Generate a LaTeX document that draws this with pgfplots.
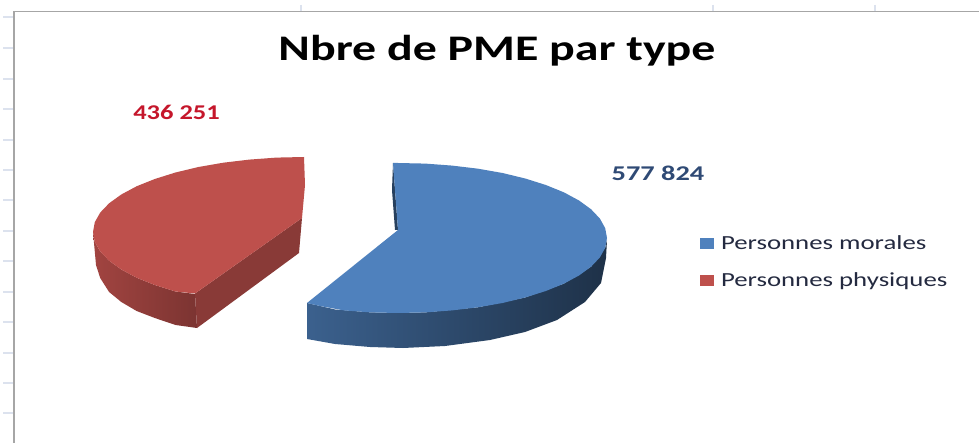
\documentclass[border=0pt]{standalone}
\usepackage{pgfplots}
\pgfplotsset{compat=1.18}
\usepackage{fontspec}
\setmainfont{Carlito}
\definecolor{bluetop}{HTML}{4F81BD}
\definecolor{redtop}{HTML}{BE504C}
\definecolor{framegray}{HTML}{A6A6A6}
\definecolor{tickblue}{HTML}{DCE2EE}
\definecolor{labred}{HTML}{C5162B}
\definecolor{labblue}{HTML}{2F4A75}
\definecolor{legtext}{HTML}{242A40}
\begin{document}
\begin{tikzpicture}
\begin{axis}[
  scale only axis, width=979pt, height=443pt,
  xmin=0, xmax=979, ymin=0, ymax=443, y dir=reverse,
  hide axis, clip=true,
  unbounded coords=jump,
  legend cell align=left,
  legend style={at={(axis cs:700,236)}, anchor=north west, draw=none, fill=none,
    font=\fontsize{20pt}{22pt}\selectfont\color{legtext}, row sep=21pt, inner sep=0pt, outer sep=0pt,
    nodes={inner sep=0pt, outer sep=0pt}},
  legend image code/.code={\fill[#1, draw=none, line width=0pt] (0pt,-5.5pt) rectangle (14pt,5.5pt);},
]
% background and frame
\addplot[fill=white, draw=none, forget plot] coordinates {(0,0) (979,0) (979,443) (0,443)} -- cycle;
\addplot[tickblue, line width=1.2pt, forget plot] coordinates {
 (3,17) (14,17) (nan,nan) (3,48) (14,48) (nan,nan) (3,79) (14,79) (nan,nan)
 (3,109) (14,109) (nan,nan) (3,140) (14,140) (nan,nan) (3,170) (14,170) (nan,nan)
 (3,200) (14,200) (nan,nan) (3,231) (14,231) (nan,nan) (3,261) (14,261) (nan,nan)
 (3,292) (14,292) (nan,nan) (3,322) (14,322) (nan,nan) (3,353) (14,353) (nan,nan)
 (3,383) (14,383) (nan,nan) (3,413) (14,413) (nan,nan)
 (301,5) (301,11) (nan,nan) (713,5) (713,11) (nan,nan) (875,5) (875,11)};
\addplot[framegray, line width=1.6pt, forget plot] coordinates {(14,443) (14,11.5) (979,11.5)};

% Personnes morales: rim, inner sliver, top face
\addplot[draw=none, forget plot, shading=axis,
  left color=bluetop!75!black, middle color=bluetop!45!black, right color=bluetop!38!black, shading angle=90]
 coordinates {(307,303) (320,306) (335.2,309.5) (370.7,312.4) (398,313) (425.3,312.4) (478,307.3)
 (525.2,297.5) (563.8,283.7) (591.1,266.7) (605.2,247.8) (607,240) (606,258) (601,283) (585,302)
 (557,320) (525,332) (490,340) (445,346) (403,348) (370,347) (335,344) (307,339)} -- cycle;
\addplot[draw=none, fill=bluetop!50!black, forget plot]
 coordinates {(393,163) (392,190) (395,230) (398,230)} -- cycle;
\addplot[draw=none, fill=bluetop]
 coordinates {(393,163) (398,163) (425.3,163.6) (452.1,165.6) (478,168.7) (502.5,173) (525.2,178.5)
 (545.8,185) (563.8,192.3) (579,200.5) (591.1,209.3) (599.9,218.6) (605.2,228.2) (607,238)
 (605.2,247.8) (599.9,257.4) (591.1,266.7) (579,275.5) (563.8,283.7) (545.8,291) (525.2,297.5)
 (502.5,303) (478,307.3) (452.1,310.4) (425.3,312.4) (398,313) (370.7,312.4) (343.9,310.4)
 (320,306) (307,303) (398,230)} -- cycle;
\addlegendentry{\hspace*{7pt}\scalebox{1.34}[1]{Personnes morales}}

% Personnes physiques: rim, cut face, top face
\addplot[draw=none, forget plot, shading=axis, left color=redtop!85!black, right color=redtop!65!black, shading angle=90]
 coordinates {(93,232) (94.8,241.8) (100.2,251.4) (109.1,260.7) (121.3,269.5) (136.6,277.7)
 (154.8,285) (175.5,291.5) (195,294) (197,328) (175.5,325) (154.8,318) (136.6,311) (121.3,302)
 (109.1,292) (100.2,278) (96,265)} -- cycle;
\addplot[draw=none, fill=redtop!72!black, forget plot]
 coordinates {(195,293.5) (197,328) (299,253) (302,218)} -- cycle;
\addplot[draw=none, fill=redtop]
 coordinates {(304,157) (276.5,157.6) (249.4,159.6) (223.3,162.7) (198.5,167) (175.5,172.5)
 (154.8,179) (136.6,186.3) (121.3,194.5) (109.1,203.3) (100.2,212.6) (94.8,222.2) (93,232)
 (94.8,241.8) (100.2,251.4) (109.1,260.7) (121.3,269.5) (136.6,277.7) (154.8,285) (175.5,291.5)
 (195,293.5) (302,218) (305,185)} -- cycle;
\addlegendentry{\hspace*{7pt}\scalebox{1.34}[1]{Personnes physiques}}

% texts
\node[font=\fontsize{36pt}{40pt}\selectfont\bfseries, text=black, inner sep=0pt] at (axis cs:497,51)
  {\scalebox{1.33}[1]{Nbre de PME par type}};
\node[font=\fontsize{21pt}{24pt}\selectfont\bfseries, text=labred, inner sep=0pt] at (axis cs:176.5,112.5) {\scalebox{1.26}[1]{436 251}};
\node[font=\fontsize{21pt}{24pt}\selectfont\bfseries, text=labblue, inner sep=0pt] at (axis cs:658,173) {\scalebox{1.35}[1]{577 824}};
\end{axis}
\end{tikzpicture}
\end{document}
